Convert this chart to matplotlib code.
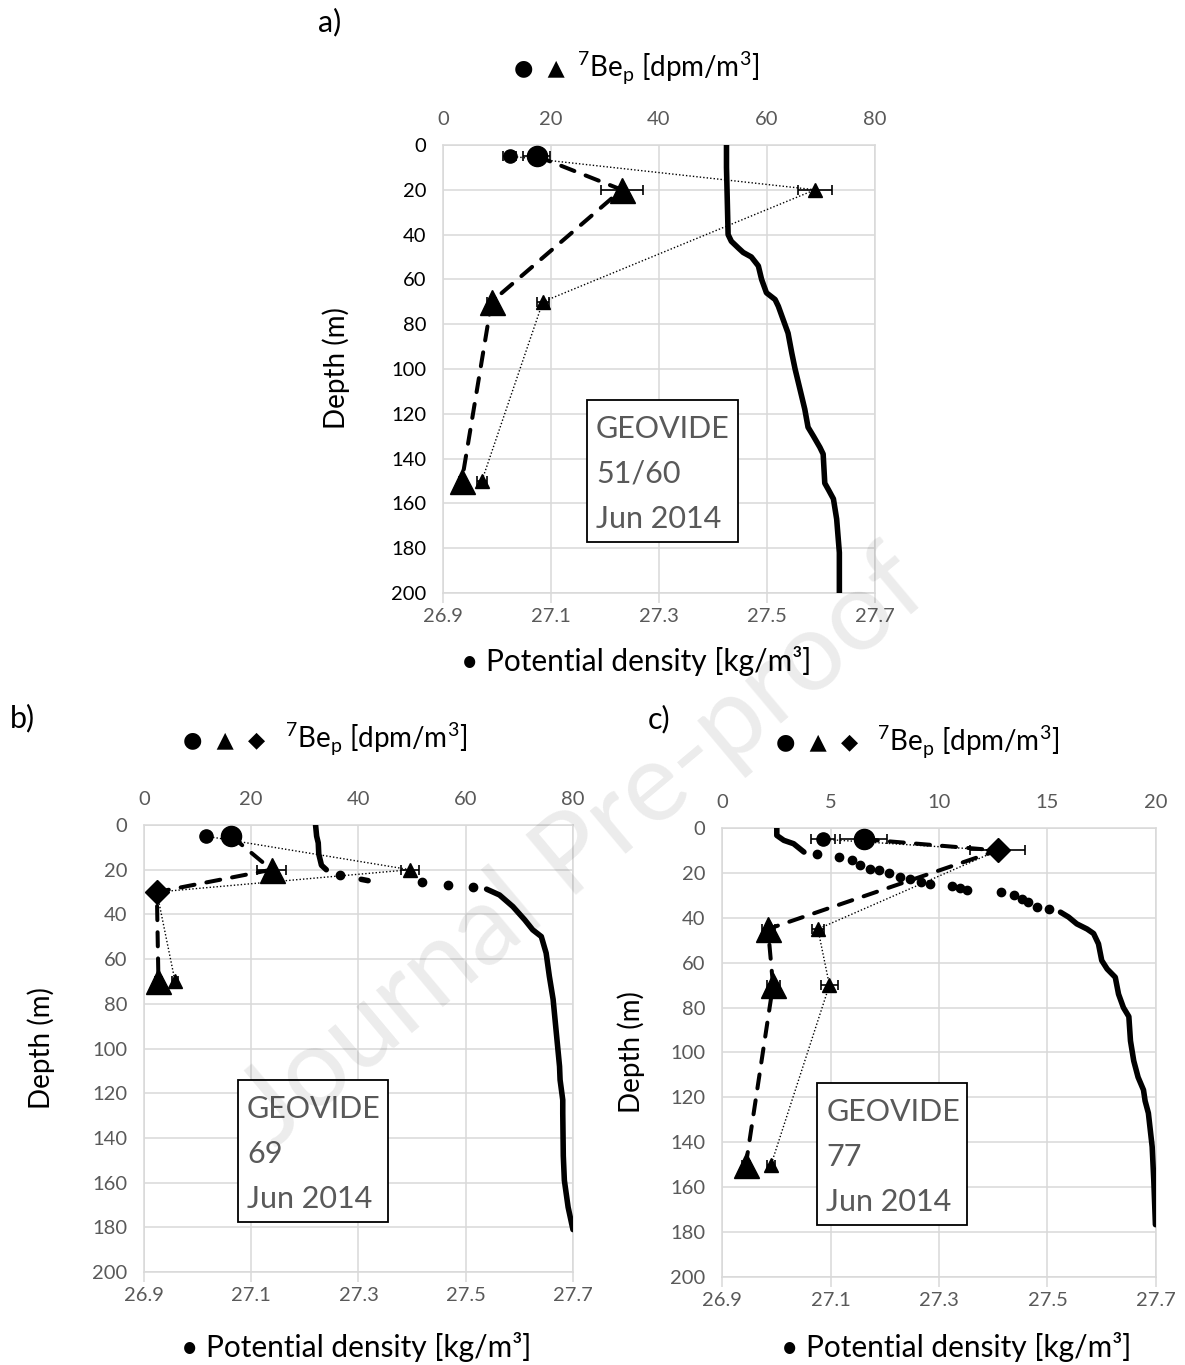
import numpy as np
import matplotlib
matplotlib.use("Agg")
import matplotlib.pyplot as plt
from matplotlib.patches import Rectangle

plt.rcParams['font.family'] = ['Lato', 'DejaVu Sans']
plt.rcParams['mathtext.fontset'] = 'custom'
plt.rcParams['mathtext.rm'] = 'Lato'

GREY = '#595959'
GRID = '#d9d9d9'

# ---- panel a : GEOVIDE 51/60 ----
a_sc_z, a_sc_v, a_sc_e = [5], [12.4], [1.2]
a_lc_z, a_lc_v, a_lc_e = [5], [17.4], [2.5]
a_lt_z, a_lt_v, a_lt_e = [20, 70, 150], [33.1, 9.0, 3.5], [3.9, 0.8, 0.5]
a_st_z, a_st_v, a_st_e = [20, 70, 150], [68.9, 18.5, 7.2], [3.2, 1.1, 0.9]
a_dm_z, a_dm_v, a_dm_e = [], [], []
a_dash_z, a_dash_v = [5, 20, 70, 150], [17.4, 33.1, 9.0, 3.5]
a_dot_z, a_dot_v = [5, 20, 70, 150], [12.4, 68.9, 18.5, 7.2]
a_sig_z = [0, 10, 20, 30, 40, 43, 46, 48, 50, 54, 60, 66, 69, 72, 80, 84, 93, 100,
           109, 118, 126, 130, 135, 138, 151, 154, 158, 167, 182, 200]
a_sig_v = [27.425, 27.425, 27.426, 27.427, 27.428, 27.434, 27.447, 27.456, 27.471,
           27.484, 27.490, 27.499, 27.515, 27.521, 27.533, 27.539, 27.546, 27.552,
           27.561, 27.570, 27.576, 27.586, 27.598, 27.604, 27.607, 27.614, 27.623,
           27.629, 27.634, 27.634]

# ---- panel b : GEOVIDE 69 ----
b_sc_z, b_sc_v, b_sc_e = [5], [11.6], [0.5]
b_lc_z, b_lc_v, b_lc_e = [5], [16.3], [1.0]
b_lt_z, b_lt_v, b_lt_e = [20, 70], [23.8, 2.7], [2.7, 0.6]
b_st_z, b_st_v, b_st_e = [20, 70], [49.6, 5.8], [1.7, 0.5]
b_dm_z, b_dm_v, b_dm_e = [30], [2.4], [0.3]
b_dash_z, b_dash_v = [5, 20, 30, 70], [16.3, 23.8, 2.4, 2.7]
b_dot_z, b_dot_v = [5, 20, 30, 70], [11.6, 49.6, 2.4, 5.8]
# None = gap in the CTD trace (isolated points)
b_sig_z = [0, 5, 8, 13, 18, 20, None, 22.3, None, 24.3, 24.9, None, 25.7, None, 26.8,
           None, 27.8, None, 28.7, 31.3, 36.5, 42.4, 46.9, 49.9, 57.3, 67.7, 78, 93,
           108, 114, 123, 129, 148, 159, 171, 181]
b_sig_v = [27.220, 27.222, 27.225, 27.226, 27.231, 27.240, None, 27.265, None, 27.305,
           27.318, None, 27.419, None, 27.467, None, 27.514, None, 27.539, 27.563,
           27.588, 27.610, 27.625, 27.641, 27.650, 27.656, 27.663, 27.669, 27.675,
           27.676, 27.681, 27.681, 27.682, 27.684, 27.691, 27.700]

# ---- panel c : GEOVIDE 77 ----
c_sc_z, c_sc_v, c_sc_e = [5], [4.65], [0.55]
c_lc_z, c_lc_v, c_lc_e = [5], [6.53], [1.07]
c_lt_z, c_lt_v, c_lt_e = [45, 70, 150], [2.12, 2.35, 1.1], [0.3, 0.3, 0.2]
c_st_z, c_st_v, c_st_e = [45, 70, 150], [4.42, 4.95, 2.26], [0.28, 0.4, 0.2]
c_dm_z, c_dm_v, c_dm_e = [10], [12.7], [1.27]
c_dash_z, c_dash_v = [5, 10, 45, 70, 150], [6.53, 12.7, 2.12, 2.35, 1.1]
c_dot_z, c_dot_v = [5, 10, 45, 70, 150], [4.65, 12.7, 4.42, 4.95, 2.26]
c_sig_z = [0, 3.3, 5.5, 7, 10.7, None, 11.8, None, 13, None, 14.4, None, 16.7, None,
           18.2, None, 18.9, None, 20.1, None, 21.9, None, 22.6, None, 24.1, None,
           24.9, None, 26, None, 26.8, None, 27.5, None, 28.6, None, 29.8, None,
           31.5, None, 33, None, 35, None, 36, None, 37.5, 39.7, 42.7, 45, 47, 51.6,
           59, 62.8, 66.5, 74, 80, 84, 94.8, 103.7, 111, 116.7, 121.6, 127, 142, 157,
           176.7]
c_sig_v = [27.001, 27.001, 27.014, 27.032, 27.051, None, 27.075, None, 27.115, None,
           27.140, None, 27.155, None, 27.173, None, 27.189, None, 27.207, None,
           27.229, None, 27.247, None, 27.266, None, 27.284, None, 27.324, None,
           27.339, None, 27.352, None, 27.415, None, 27.438, None, 27.453, None,
           27.465, None, 27.481, None, 27.502, None, 27.524, 27.539, 27.554, 27.573,
           27.585, 27.594, 27.600, 27.610, 27.625, 27.631, 27.640, 27.650, 27.653,
           27.659, 27.667, 27.677, 27.680, 27.686, 27.693, 27.696, 27.699]

sig_ticks = [26.9, 27.1, 27.3, 27.5, 27.7]
depth_ticks = list(range(0, 201, 20))
be_ticks_ab = [0, 20, 40, 60, 80]
be_ticks_c = [0, 5, 10, 15, 20]


def arr(v):
    return np.array([np.nan if x is None else x for x in v], dtype=float)


def panel(rect, be_ticks, sig_z, sig_v, sc, lc, lt, st, dm, dash, dot,
          box, station, ytick_color):
    fig = plt.gcf()
    ax = fig.add_axes(rect)
    ax.set_xlim(26.9, 27.7)
    ax.set_ylim(200, 0)
    ax.set_xticks(sig_ticks)
    ax.set_xticklabels(['%.1f' % t for t in sig_ticks])
    ax.set_yticks(depth_ticks)
    ax.grid(True, color=GRID, lw=1.1)
    ax.set_axisbelow(True)
    for s in ax.spines.values():
        s.set_color(GRID)
        s.set_linewidth(1.1)
    ax.tick_params(axis='x', colors=GRID, labelcolor=GREY, labelsize=14.5,
                   direction='out', length=7, width=1.1, pad=4)
    ax.tick_params(axis='y', labelcolor=ytick_color, labelsize=14.5, length=0, pad=12)

    # boxed station label
    bx, by, bw, bh = box
    ax.add_patch(Rectangle((bx, by), bw, bh, transform=ax.transAxes,
                           facecolor='white', edgecolor='black', lw=1.3, zorder=2))
    top = by + bh
    for i, line in enumerate(['GEOVIDE', station, 'Jun 2014']):
        ax.text(bx + 0.021, top - (38 + 45 * i) / 448, line, transform=ax.transAxes,
                fontsize=22, color=GREY, va='baseline', ha='left', zorder=3)

    # CTD potential density: continuous trace + isolated samples
    z, v = arr(sig_z), arr(sig_v)
    ax.plot(v, z, '-', color='black', lw=4.0, solid_capstyle='round', zorder=4)
    iso = [i for i in range(len(z)) if not np.isnan(z[i])
           and (i == 0 or np.isnan(z[i - 1])) and (i == len(z) - 1 or np.isnan(z[i + 1]))]
    ax.plot(v[iso], z[iso], ls='none', marker='o', ms=6, color='black', zorder=4)

    ax2 = ax.twiny()
    ax2.set_xlim(be_ticks[0], be_ticks[-1])
    ax2.set_xticks(be_ticks)
    ax2.tick_params(axis='x', length=0, labelcolor=GREY, labelsize=14.5, pad=12)
    for s in ax2.spines.values():
        s.set_visible(False)

    ax2.plot(dash[1], dash[0], color='black', lw=2.9, ls=(0, (3.5, 3)),
             dash_capstyle='round', zorder=2)
    ax2.plot(dot[1], dot[0], color='black', lw=1.0, ls=(0, (1, 1.5)), zorder=2)

    for (zz, vv, e), mk, ms in [(sc, 'o', 9.5), (lc, 'o', 14.5), (lt, '^', 18),
                                (st, '^', 9.5), (dm, 'D', 12)]:
        if len(zz) == 0:
            continue
        ax2.errorbar(vv, zz, xerr=e, fmt='none', ecolor='black', elinewidth=1.2,
                     capsize=3.6, capthick=1.2, zorder=3)
        ax2.plot(vv, zz, ls='none', marker=mk, ms=ms, color='black', zorder=5)
    ax2.set_ylim(200, 0)
    return ax, ax2


fig = plt.figure(figsize=(11.85, 13.65), dpi=100)

panel([0.3738, 0.5656, 0.3646, 0.3282], be_ticks_ab, a_sig_z, a_sig_v,
      (a_sc_z, a_sc_v, a_sc_e), (a_lc_z, a_lc_v, a_lc_e), (a_lt_z, a_lt_v, a_lt_e),
      (a_st_z, a_st_v, a_st_e), (a_dm_z, a_dm_v, a_dm_e),
      (a_dash_z, a_dash_v), (a_dot_z, a_dot_v),
      (0.333, 0.114, 0.35, 0.317), '51/60', 'black')
panel([0.1215, 0.0681, 0.3620, 0.3275], be_ticks_ab, b_sig_z, b_sig_v,
      (b_sc_z, b_sc_v, b_sc_e), (b_lc_z, b_lc_v, b_lc_e), (b_lt_z, b_lt_v, b_lt_e),
      (b_st_z, b_st_v, b_st_e), (b_dm_z, b_dm_v, b_dm_e),
      (b_dash_z, b_dash_v), (b_dot_z, b_dot_v),
      (0.219, 0.112, 0.35, 0.318), '69', GREY)
panel([0.6093, 0.0645, 0.3662, 0.3289], be_ticks_c, c_sig_z, c_sig_v,
      (c_sc_z, c_sc_v, c_sc_e), (c_lc_z, c_lc_v, c_lc_e), (c_lt_z, c_lt_v, c_lt_e),
      (c_st_z, c_st_v, c_st_e), (c_dm_z, c_dm_v, c_dm_e),
      (c_dash_z, c_dash_v), (c_dot_z, c_dot_v),
      (0.219, 0.116, 0.346, 0.316), '77', GREY)

be_lab = r'$^{7}$Be$_{\mathrm{p}}$ [dpm/m$^{3}$]'
sig_lab = '\u2022 Potential density [kg/m\u00b3]'

fig.text(0.268, 0.984, 'a)', fontsize=22, va='center')
fig.text(0.008, 0.474, 'b)', fontsize=22, va='center')
fig.text(0.547, 0.473, 'c)', fontsize=22, va='center')

# legend-like axis titles: symbols in DejaVu Sans, label in Lato
for xs, xl, y, sym in [(0.4768, 0.487, 0.950, '\u25cf  \u25b2'),
                       (0.2236, 0.2405, 0.458, '\u25cf  \u25b2  \u25c6'),
                       (0.724, 0.740, 0.456, '\u25cf  \u25b2  \u25c6')]:
    fig.text(xs, y, sym, fontsize=16, family='DejaVu Sans', ha='right', va='center')
    fig.text(xl, y, be_lab, fontsize=20, ha='left', va='center')

fig.text(0.537, 0.516, sig_lab, fontsize=21.5, ha='center', va='center')
fig.text(0.301, 0.013, sig_lab, fontsize=21.5, ha='center', va='center')
fig.text(0.807, 0.013, sig_lab, fontsize=21.5, ha='center', va='center')

fig.text(0.284, 0.730, 'Depth (m)', fontsize=20, rotation=90, ha='center', va='center')
fig.text(0.035, 0.232, 'Depth (m)', fontsize=20, rotation=90, ha='center', va='center')
fig.text(0.533, 0.229, 'Depth (m)', fontsize=20, rotation=90, ha='center', va='center')

# watermark
fig.text(0.493, 0.378, 'Journal Pre-proof', fontsize=80, rotation=40, color='black',
         alpha=0.08, ha='center', va='center', zorder=10)

fig.savefig('out.png', dpi=100)
